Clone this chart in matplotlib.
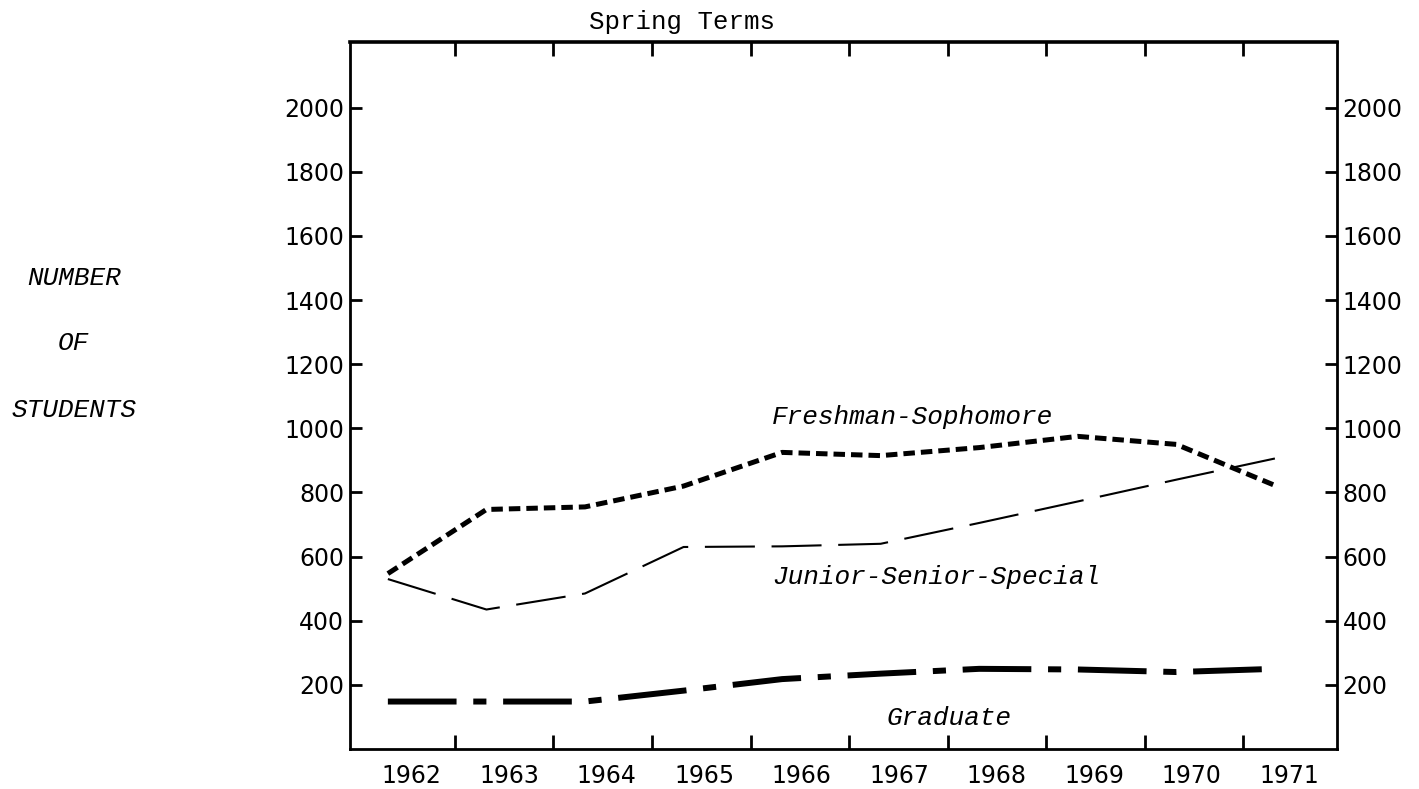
import numpy as np
import matplotlib
matplotlib.use("Agg")
import matplotlib.pyplot as plt

years = np.arange(1962, 1972)
freshman_sophomore = [547, 747, 755, 820, 925, 915, 940, 975, 950, 822]
junior_senior_special = [530, 435, 485, 630, 632, 640, 705, 772, 840, 906]
graduate = [148, 148, 148, 182, 218, 235, 250, 248, 240, 250]

y_ticks = list(range(200, 2001, 200))

fig = plt.figure(figsize=(14.19, 7.89), dpi=100)
ax = fig.add_axes([0.2466, 0.0507, 0.6956, 0.8961])

ax.plot(years, freshman_sophomore, color='black', lw=3.6,
        dashes=(2.3, 1.2), solid_capstyle='butt')
ax.plot(years, junior_senior_special, color='black', lw=1.5,
        dashes=(24, 8))
ax.plot(years, graduate, color='black', lw=4.3,
        dashes=(11.5, 2.8, 2.2, 2.8))

ax.set_xlim(years[0] - 0.385, years[-1] + 0.63)
ax.set_ylim(0, 2205)

mono = 'Liberation Mono'
ax.text(1965.9, 1035, 'Freshman-Sophomore', family=mono, style='italic',
        fontsize=18.8, va='center', ha='left')
ax.text(1965.9, 535, 'Junior-Senior-Special', family=mono, style='italic',
        fontsize=18.8, va='center', ha='left')
ax.text(1967.06, 97, 'Graduate', family=mono, style='italic',
        fontsize=18.8, va='center', ha='left')

# year labels sit a little right of the data points, typed slightly tighter
label_pos = years[0] + 0.243 + (years - years[0]) * 0.989
ax.set_xticks(label_pos, labels=[str(y) for y in years])
ax.tick_params(axis='x', which='major', length=0, pad=11, labelsize=17)
ax.set_xticks(years[:-1] + 0.68, minor=True)
ax.tick_params(axis='x', which='minor', direction='in', length=10,
               width=2, top=True, bottom=True)

ax.set_yticks(y_ticks)
ax.tick_params(axis='y', which='major', direction='in', length=8.5, width=2,
               left=True, right=True, labelleft=True, labelright=True,
               labelsize=17, pad=4)

for s in ax.spines.values():
    s.set_linewidth(2)
ax.spines['top'].set_linewidth(2.6)

fig.text(0.4806, 0.972, 'Spring Terms', family=mono, fontsize=18.5,
         ha='center', va='center')
fig.text(0.052, 1 - 278 / 789, 'NUMBER', family=mono, style='italic',
         fontsize=18.8, ha='center', va='center')
fig.text(0.052, 1 - 343 / 789, 'OF', family=mono, style='italic',
         fontsize=18.8, ha='center', va='center')
fig.text(0.052, 1 - 410 / 789, 'STUDENTS', family=mono, style='italic',
         fontsize=18.8, ha='center', va='center')

fig.savefig('out.png', dpi=100)
